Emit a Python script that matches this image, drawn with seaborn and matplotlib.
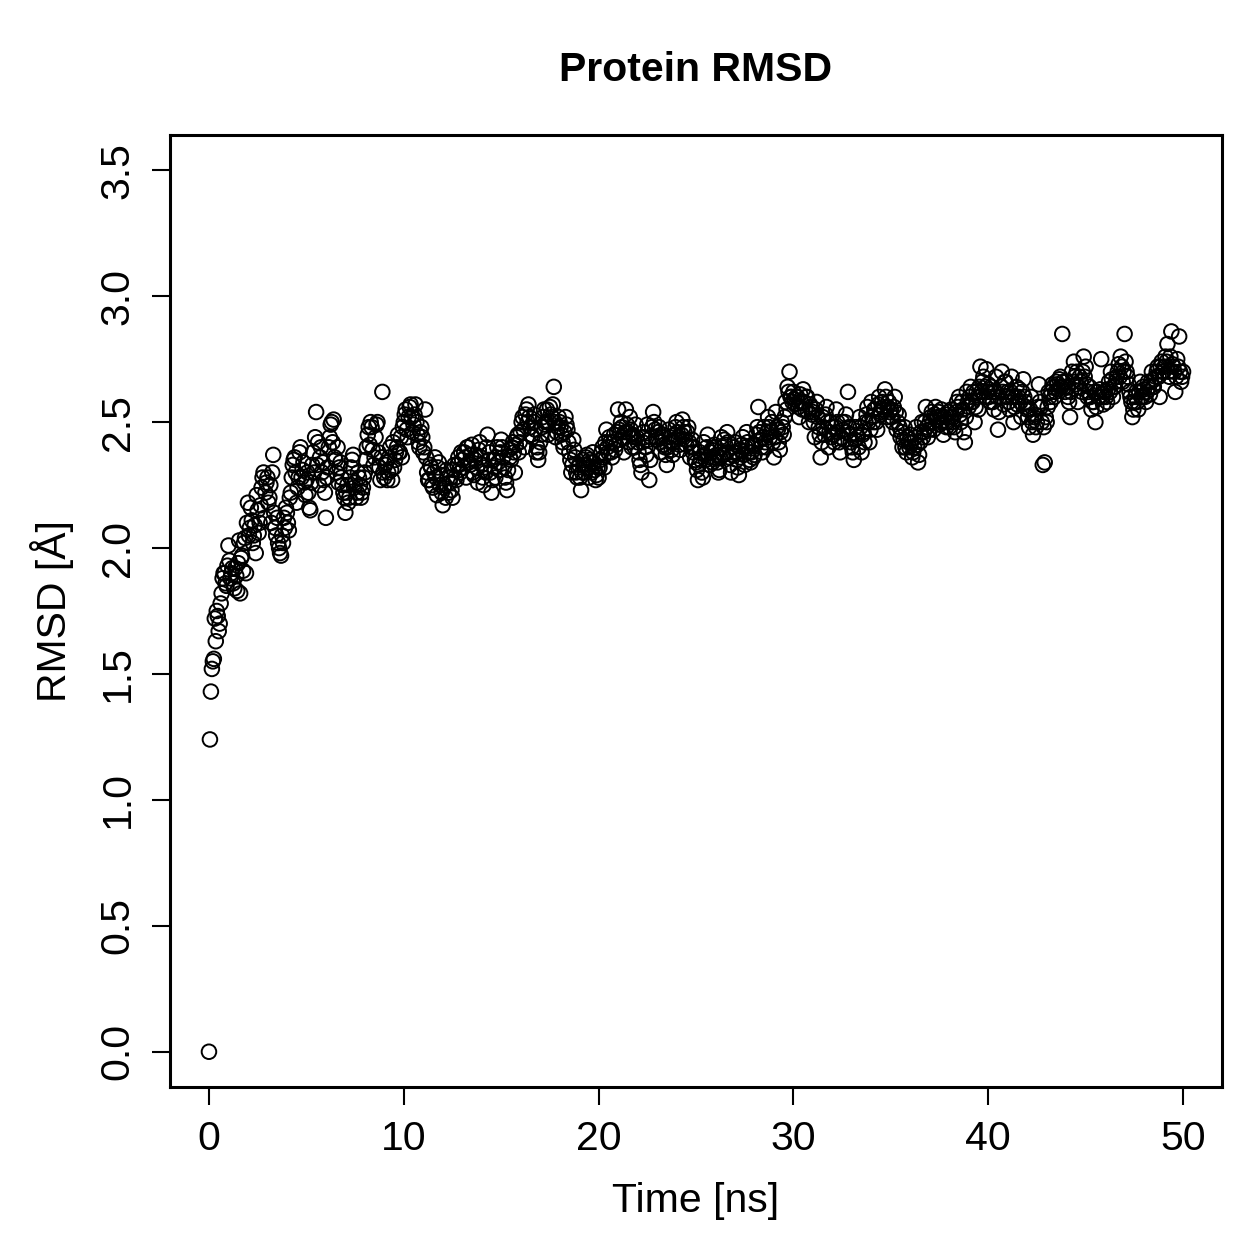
import numpy as np
import pandas as pd
import matplotlib
matplotlib.use("Agg")
import matplotlib.pyplot as plt
import seaborn as sns

# RMSD values (Angstrom).
# "even" samples at t = 0.0, 0.1, 0.2, ... ns ; "odd" samples at t = 0.05, 0.15, ... ns
rmsd_even_00_10 = [
    0.00, 1.43, 1.55, 1.72, 1.75, 1.67, 1.78, 1.88, 1.90, 1.85,
    2.01, 1.88, 1.92, 1.84, 1.89, 1.94, 1.82, 1.97, 2.02, 1.90,
    2.18, 2.08, 2.11, 2.05, 1.98, 2.15, 2.10, 2.24, 2.30, 2.22,
    2.28, 2.20, 2.10, 2.37, 2.08, 2.12, 2.00, 1.97, 2.02, 2.08,
    2.14, 2.07, 2.22, 2.33, 2.36, 2.18, 2.28, 2.40, 2.31, 2.26,
    2.27, 2.22, 2.15, 2.33, 2.30, 2.54, 2.42, 2.36, 2.30, 2.27,
    2.12, 2.32, 2.44, 2.50, 2.51, 2.35, 2.40, 2.32, 2.28, 2.22,
    2.14, 2.25, 2.20, 2.32, 2.37, 2.26, 2.22, 2.28, 2.20, 2.24,
    2.30, 2.40, 2.48, 2.50, 2.39, 2.36, 2.49, 2.38, 2.27, 2.62,
    2.28, 2.34, 2.30, 2.40, 2.27, 2.32, 2.38, 2.45, 2.38, 2.36,
]
rmsd_even_10_20 = [
    2.50, 2.55, 2.44, 2.56, 2.52, 2.49, 2.57, 2.45, 2.40, 2.48,
    2.38, 2.55, 2.30, 2.27, 2.32, 2.24, 2.36, 2.21, 2.34, 2.29,
    2.17, 2.25, 2.31, 2.22, 2.28, 2.20, 2.33, 2.27, 2.36, 2.30,
    2.35, 2.38, 2.28, 2.40, 2.33, 2.41, 2.29, 2.37, 2.26, 2.42,
    2.33, 2.25, 2.30, 2.45, 2.38, 2.22, 2.35, 2.28, 2.40, 2.31,
    2.43, 2.36, 2.28, 2.23, 2.39, 2.35, 2.42, 2.30, 2.44, 2.38,
    2.46, 2.52, 2.40, 2.55, 2.57, 2.48, 2.44, 2.53, 2.38, 2.35,
    2.42, 2.48, 2.55, 2.50, 2.45, 2.56, 2.52, 2.64, 2.44, 2.48,
    2.50, 2.45, 2.40, 2.52, 2.47, 2.38, 2.30, 2.43, 2.36, 2.28,
    2.33, 2.23, 2.35, 2.30, 2.37, 2.28, 2.34, 2.38, 2.31, 2.29,
]
rmsd_even_20_30 = [
    2.28, 2.35, 2.40, 2.32, 2.47, 2.38, 2.42, 2.36, 2.45, 2.41,
    2.55, 2.43, 2.48, 2.38, 2.55, 2.46, 2.52, 2.40, 2.44, 2.49,
    2.42, 2.35, 2.30, 2.46, 2.40, 2.49, 2.27, 2.44, 2.54, 2.47,
    2.43, 2.48, 2.38, 2.45, 2.40, 2.33, 2.47, 2.42, 2.37, 2.45,
    2.50, 2.44, 2.39, 2.51, 2.46, 2.41, 2.48, 2.36, 2.43, 2.40,
    2.34, 2.27, 2.38, 2.30, 2.42, 2.35, 2.45, 2.33, 2.39, 2.36,
    2.40, 2.34, 2.31, 2.44, 2.37, 2.41, 2.46, 2.36, 2.30, 2.38,
    2.42, 2.35, 2.29, 2.39, 2.44, 2.33, 2.46, 2.38, 2.34, 2.41,
    2.37, 2.45, 2.56, 2.43, 2.38, 2.48, 2.40, 2.52, 2.44, 2.50,
    2.36, 2.54, 2.47, 2.39, 2.50, 2.45, 2.58, 2.64, 2.70, 2.60,
]
rmsd_even_30_40 = [
    2.62, 2.57, 2.60, 2.52, 2.58, 2.63, 2.55, 2.60, 2.50, 2.56,
    2.54, 2.44, 2.58, 2.48, 2.36, 2.52, 2.45, 2.56, 2.40, 2.50,
    2.48, 2.42, 2.55, 2.46, 2.38, 2.50, 2.43, 2.53, 2.62, 2.45,
    2.40, 2.35, 2.48, 2.44, 2.52, 2.38, 2.46, 2.50, 2.56, 2.42,
    2.58, 2.50, 2.55, 2.47, 2.60, 2.53, 2.56, 2.63, 2.52, 2.58,
    2.55, 2.50, 2.60, 2.47, 2.53, 2.44, 2.40, 2.48, 2.38, 2.42,
    2.45, 2.36, 2.40, 2.48, 2.34, 2.42, 2.50, 2.46, 2.56, 2.44,
    2.50, 2.54, 2.47, 2.56, 2.52, 2.49, 2.55, 2.45, 2.53, 2.50,
    2.48, 2.55, 2.52, 2.46, 2.58, 2.60, 2.50, 2.55, 2.42, 2.62,
    2.56, 2.64, 2.58, 2.50, 2.62, 2.55, 2.72, 2.66, 2.60, 2.71,
]
rmsd_even_40_50 = [
    2.65, 2.58, 2.62, 2.55, 2.68, 2.47, 2.60, 2.70, 2.57, 2.66,
    2.62, 2.55, 2.68, 2.50, 2.60, 2.57, 2.63, 2.52, 2.67, 2.58,
    2.55, 2.48, 2.60, 2.45, 2.53, 2.50, 2.65, 2.56, 2.33, 2.34,
    2.50, 2.62, 2.58, 2.65, 2.60, 2.66, 2.63, 2.68, 2.85, 2.64,
    2.66, 2.60, 2.52, 2.70, 2.74, 2.65, 2.58, 2.68, 2.62, 2.76,
    2.72, 2.60, 2.64, 2.55, 2.58, 2.50, 2.62, 2.60, 2.75, 2.57,
    2.62, 2.58, 2.66, 2.70, 2.60, 2.64, 2.68, 2.73, 2.76, 2.66,
    2.85, 2.70, 2.65, 2.60, 2.52, 2.58, 2.62, 2.55, 2.66, 2.60,
    2.63, 2.58, 2.66, 2.61, 2.70, 2.64, 2.68, 2.72, 2.60, 2.74,
    2.70, 2.76, 2.81, 2.68, 2.86, 2.72, 2.62, 2.75, 2.84, 2.66,
    2.70,
]
rmsd_odd_00_10 = [
    1.24, 1.52, 1.56, 1.63, 1.73, 1.70, 1.82, 1.90, 1.86, 1.93,
    1.95, 1.90, 1.86, 1.92, 1.83, 2.03, 1.96, 1.91, 2.04, 2.10,
    2.05, 2.16, 2.02, 2.09, 2.21, 2.06, 2.17, 2.28, 2.12, 2.26,
    2.18, 2.25, 2.30, 2.14, 2.05, 2.02, 1.98, 2.05, 2.12, 2.16,
    2.10, 2.20, 2.28, 2.35, 2.30, 2.24, 2.38, 2.28, 2.34, 2.21,
    2.30, 2.16, 2.26, 2.38, 2.44, 2.33, 2.25, 2.40, 2.34, 2.22,
    2.28, 2.40, 2.49, 2.42, 2.36, 2.30, 2.26, 2.34, 2.25, 2.20,
    2.22, 2.18, 2.28, 2.35, 2.24, 2.20, 2.30, 2.25, 2.22, 2.28,
    2.35, 2.45, 2.41, 2.48, 2.33, 2.44, 2.50, 2.32, 2.36, 2.30,
    2.33, 2.27, 2.36, 2.31, 2.42, 2.35, 2.40, 2.38, 2.44, 2.48,
]
rmsd_odd_10_20 = [
    2.53, 2.47, 2.52, 2.57, 2.46, 2.53, 2.50, 2.42, 2.46, 2.44,
    2.40, 2.36, 2.27, 2.33, 2.25, 2.30, 2.28, 2.32, 2.25, 2.22,
    2.24, 2.20, 2.28, 2.26, 2.23, 2.31, 2.28, 2.33, 2.31, 2.38,
    2.32, 2.36, 2.40, 2.34, 2.37, 2.30, 2.35, 2.32, 2.39, 2.36,
    2.28, 2.32, 2.40, 2.35, 2.30, 2.27, 2.32, 2.36, 2.34, 2.38,
    2.40, 2.32, 2.26, 2.31, 2.36, 2.40, 2.38, 2.41, 2.45, 2.42,
    2.50, 2.47, 2.53, 2.50, 2.52, 2.45, 2.50, 2.47, 2.40, 2.38,
    2.45, 2.52, 2.49, 2.55, 2.50, 2.53, 2.57, 2.50, 2.46, 2.52,
    2.48, 2.42, 2.46, 2.49, 2.42, 2.35, 2.33, 2.39, 2.30, 2.32,
    2.28, 2.30, 2.33, 2.36, 2.32, 2.35, 2.30, 2.34, 2.27, 2.32,
]
rmsd_odd_20_30 = [
    2.32, 2.38, 2.36, 2.42, 2.40, 2.44, 2.38, 2.42, 2.39, 2.46,
    2.47, 2.50, 2.44, 2.46, 2.49, 2.42, 2.47, 2.45, 2.40, 2.44,
    2.38, 2.33, 2.42, 2.44, 2.37, 2.43, 2.35, 2.48, 2.50, 2.44,
    2.46, 2.42, 2.44, 2.41, 2.37, 2.40, 2.44, 2.39, 2.42, 2.48,
    2.46, 2.41, 2.45, 2.48, 2.43, 2.46, 2.42, 2.40, 2.38, 2.35,
    2.31, 2.33, 2.35, 2.28, 2.37, 2.40, 2.36, 2.38, 2.34, 2.41,
    2.37, 2.30, 2.36, 2.40, 2.43, 2.38, 2.42, 2.33, 2.37, 2.40,
    2.38, 2.32, 2.36, 2.41, 2.37, 2.40, 2.42, 2.35, 2.38, 2.36,
    2.41, 2.48, 2.46, 2.40, 2.44, 2.42, 2.46, 2.48, 2.46, 2.42,
    2.44, 2.48, 2.42, 2.46, 2.48, 2.52, 2.55, 2.62, 2.60, 2.58,
]
rmsd_odd_30_40 = [
    2.59, 2.60, 2.56, 2.61, 2.55, 2.58, 2.60, 2.54, 2.57, 2.53,
    2.50, 2.55, 2.52, 2.45, 2.42, 2.48, 2.53, 2.50, 2.46, 2.44,
    2.45, 2.48, 2.50, 2.42, 2.44, 2.47, 2.50, 2.46, 2.48, 2.42,
    2.38, 2.43, 2.45, 2.40, 2.48, 2.45, 2.42, 2.53, 2.50, 2.47,
    2.52, 2.55, 2.50, 2.57, 2.54, 2.58, 2.55, 2.60, 2.56, 2.54,
    2.52, 2.56, 2.54, 2.50, 2.48, 2.46, 2.43, 2.40, 2.44, 2.40,
    2.42, 2.38, 2.44, 2.41, 2.37, 2.46, 2.44, 2.50, 2.48, 2.47,
    2.52, 2.50, 2.53, 2.51, 2.54, 2.52, 2.50, 2.52, 2.48, 2.54,
    2.52, 2.50, 2.48, 2.54, 2.56, 2.53, 2.58, 2.46, 2.52, 2.58,
    2.60, 2.58, 2.62, 2.56, 2.60, 2.64, 2.62, 2.68, 2.64, 2.62,
]
rmsd_odd_40_50 = [
    2.60, 2.64, 2.58, 2.62, 2.60, 2.54, 2.64, 2.62, 2.66, 2.60,
    2.58, 2.62, 2.60, 2.56, 2.64, 2.60, 2.58, 2.62, 2.60, 2.56,
    2.52, 2.55, 2.50, 2.52, 2.48, 2.56, 2.58, 2.50, 2.48, 2.52,
    2.56, 2.60, 2.62, 2.64, 2.62, 2.65, 2.67, 2.64, 2.66, 2.62,
    2.64, 2.58, 2.62, 2.66, 2.68, 2.70, 2.64, 2.66, 2.70, 2.68,
    2.65, 2.62, 2.60, 2.58, 2.62, 2.56, 2.60, 2.63, 2.60, 2.62,
    2.60, 2.63, 2.62, 2.67, 2.64, 2.66, 2.70, 2.68, 2.72, 2.70,
    2.74, 2.68, 2.62, 2.58, 2.55, 2.60, 2.58, 2.62, 2.60, 2.64,
    2.60, 2.62, 2.64, 2.66, 2.64, 2.67, 2.70, 2.68, 2.72, 2.70,
    2.72, 2.74, 2.70, 2.76, 2.73, 2.70, 2.68, 2.72, 2.70, 2.68,
]
time_step_ns = 0.1
odd_offset_ns = 0.05
x_ticks = [0, 10, 20, 30, 40, 50]
y_ticks = [0.0, 0.5, 1.0, 1.5, 2.0, 2.5, 3.0, 3.5]
y_tick_labels = ["0.0", "0.5", "1.0", "1.5", "2.0", "2.5", "3.0", "3.5"]

rmsd_even = (rmsd_even_00_10 + rmsd_even_10_20 + rmsd_even_20_30
             + rmsd_even_30_40 + rmsd_even_40_50)
rmsd_odd = (rmsd_odd_00_10 + rmsd_odd_10_20 + rmsd_odd_20_30
            + rmsd_odd_30_40 + rmsd_odd_40_50)
df = pd.concat([
    pd.DataFrame({"time": np.arange(len(rmsd_even)) * time_step_ns, "rmsd": rmsd_even}),
    pd.DataFrame({"time": odd_offset_ns + np.arange(len(rmsd_odd)) * time_step_ns, "rmsd": rmsd_odd}),
]).sort_values("time").reset_index(drop=True)

sns.set_style("ticks")
plt.rcParams["font.family"] = ["Liberation Sans", "DejaVu Sans"]
plt.rcParams["text.color"] = "black"
plt.rcParams["axes.labelcolor"] = "black"

fig = plt.figure(figsize=(12.59, 12.59), dpi=100)
ax = fig.add_axes([170 / 1259, 1 - 1087 / 1259, (1222 - 170) / 1259, (1087 - 135) / 1259])

sns.scatterplot(data=df, x="time", y="rmsd", ax=ax, marker="o",
                facecolors="none", edgecolor="black", linewidth=1.4, s=110,
                legend=False)

ax.set_xlim(-2, 52)
ax.set_ylim(-0.14, 3.64)
ax.set_xticks(x_ticks)
ax.set_yticks(y_ticks)
ax.set_yticklabels(y_tick_labels)
fs = 29.5
ax.tick_params(axis="both", direction="out", length=13, width=1.5,
               labelsize=fs, pad=11, colors="black")
for lab in ax.get_yticklabels():
    lab.set_rotation(90)
    lab.set_va("center")

for sp in ax.spines.values():
    sp.set_visible(True)
    sp.set_linewidth(2.2)
    sp.set_color("black")

ax.set_xlabel("Time [ns]", fontsize=fs, va="center", color="black")
ax.xaxis.set_label_coords(0.5, (1087 - 1201) / 952)
ax.set_ylabel("RMSD [Å]", fontsize=fs, va="center", color="black")
ax.yaxis.set_label_coords((52 - 170) / 1052, 0.5)
ax.text(0.5, (1087 - 70) / 952, "Protein RMSD", transform=ax.transAxes,
        ha="center", va="center", fontsize=fs, fontweight="bold", color="black")

fig.savefig("out.png", dpi=100, facecolor="white")
